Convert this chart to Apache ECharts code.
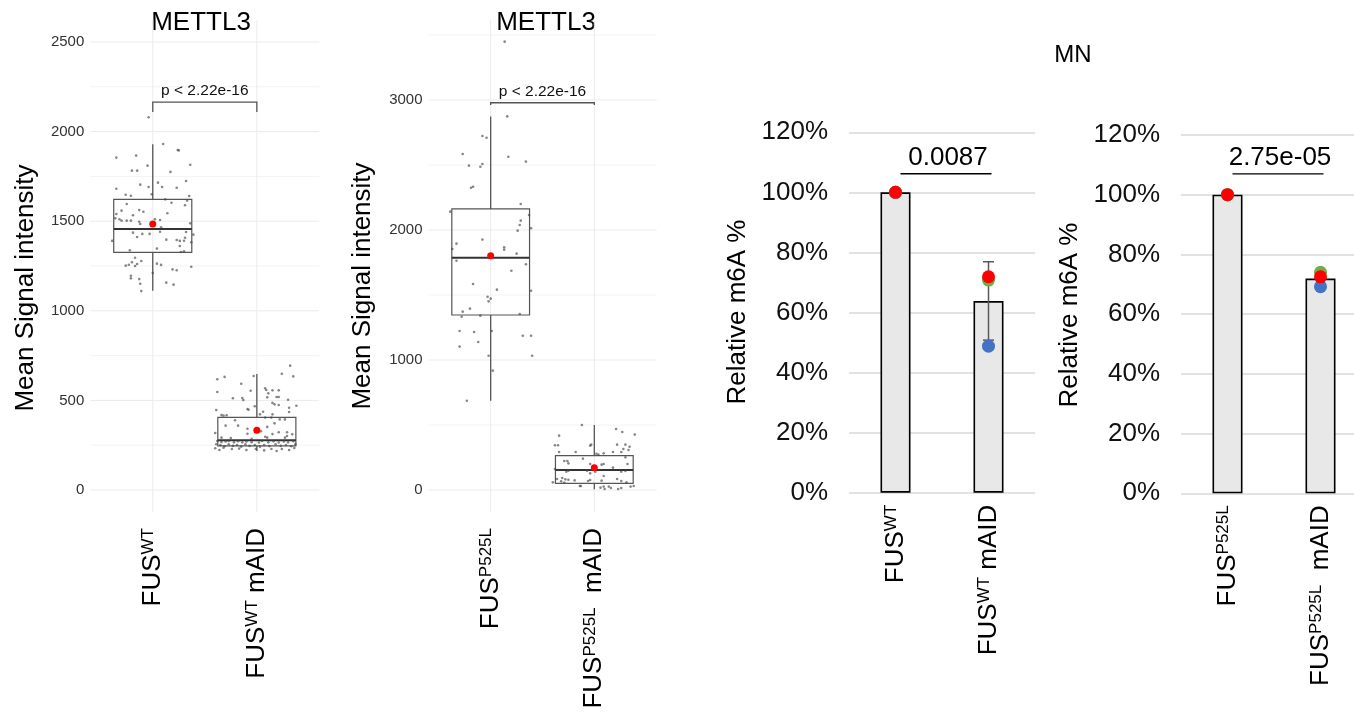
<!DOCTYPE html>
<html>
<head>
<meta charset="utf-8">
<script src="https://cdn.jsdelivr.net/npm/echarts@6/dist/echarts.min.js"></script>
<style>
  html, body { margin: 0; padding: 0; background: #ffffff; }
  #chart { width: 1354px; height: 717px; }
</style>
</head>
<body>
<div id="chart"></div>
<script>
// ---------- METTL3 signal, FUS WT vs FUS WT mAID ----------
// five-number summaries: [lower whisker, Q1, median, Q3, upper whisker]
const wtBox = [1112, 1326, 1456, 1622, 1929];
const wtAidBox = [218, 246, 277, 405, 647];
const wtMeans = [1484, 333];
const wtPValue = 'p < 2.22e-16';
const wtBracket = [2165, 2109];       // bracket top, tick end
const wtTicks = [0, 500, 1000, 1500, 2000, 2500];
const wtMinor = [250, 750, 1250, 1750, 2250];
// individual measurements: [horizontal jitter, signal]
const wtPoints = [[-0.04,2080],[0.10,1931],[0.24,1897],[0.25,1895],[-0.35,1855],[-0.16,1866],[0.36,1815],[-0.05,1810],[-0.20,1782],[-0.15,1782],[0.17,1775],[0.32,1724],[0.05,1715],[-0.12,1704],[0.09,1691],[-0.04,1691],[0.23,1687],[-0.35,1681],[-0.26,1648],[-0.21,1642],[-0.01,1650],[0.35,1641],[0.33,1615],[0.12,1622],[0.18,1603],[-0.25,1596],[0.31,1589],[-0.30,1559],[-0.13,1562],[-0.09,1553],[0.14,1544],[-0.35,1540],[-0.36,1516],[-0.19,1533],[-0.32,1511],[-0.30,1503],[-0.25,1503],[-0.21,1503],[-0.13,1497],[0.02,1511],[0.07,1507],[-0.12,1484],[0.36,1488],[0.08,1466],[0.07,1441],[-0.19,1436],[-0.10,1429],[-0.03,1429],[0.32,1440],[0.39,1425],[-0.15,1412],[0.31,1408],[0.13,1397],[0.23,1395],[0.30,1391],[0.26,1390],[-0.39,1390],[0.37,1382],[0.26,1362],[0.04,1347],[0.27,1328],[0.30,1332],[-0.22,1338],[-0.17,1296],[-0.11,1278],[-0.20,1271],[-0.23,1257],[-0.26,1252],[-0.15,1261],[-0.17,1250],[0.04,1263],[0.08,1256],[0.37,1246],[0.19,1231],[0.23,1226],[0.00,1211],[-0.21,1196],[-0.21,1181],[-0.13,1177],[0.13,1157],[0.20,1146],[-0.12,1151],[-0.11,1110]];
const wtAidPoints = [[0.32,694],[0.24,649],[0.35,634],[-0.03,636],[-0.31,631],[-0.38,618],[-0.15,593],[0.08,568],[0.09,558],[0.15,556],[0.21,556],[-0.38,547],[-0.06,554],[0.11,540],[-0.23,512],[-0.14,513],[-0.13,502],[0.10,517],[0.19,519],[0.21,519],[0.30,504],[0.15,486],[0.17,478],[0.21,474],[0.31,459],[0.38,470],[-0.02,467],[-0.09,452],[-0.08,448],[-0.39,446],[0.06,437],[0.31,435],[-0.34,418],[-0.32,415],[-0.29,417],[0.03,422],[0.15,422],[0.08,404],[0.14,404],[0.22,394],[0.27,394],[-0.21,389],[0.17,372],[-0.18,359],[-0.30,359],[0.10,352],[-0.09,342],[0.04,328],[-0.09,314],[0.29,322],[0.34,311],[-0.40,318],[0.15,312],[0.21,322],[-0.34,292],[-0.25,290],[0.08,297],[0.10,292],[0.27,292],[0.29,301],[-0.05,285],[-0.38,273],[-0.34,268],[-0.30,271],[-0.27,274],[-0.22,266],[-0.18,272],[-0.14,266],[-0.10,270],[-0.05,267],[0.02,265],[0.05,273],[0.11,266],[0.16,272],[0.21,265],[0.26,271],[0.30,266],[0.35,272],[-0.39,255],[-0.35,251],[-0.31,244],[-0.27,255],[-0.23,246],[-0.19,251],[-0.15,242],[-0.11,255],[-0.07,246],[-0.02,251],[0.03,242],[0.07,251],[0.12,245],[0.18,255],[0.23,246],[0.28,251],[0.33,244],[0.37,255],[-0.40,233],[-0.36,223],[-0.32,236],[-0.24,229],[-0.17,231],[-0.10,223],[-0.01,229],[0.07,221],[0.14,229],[0.19,218],[0.24,229],[0.31,223],[0.36,234]];

// ---------- METTL3 signal, FUS P525L vs FUS P525L mAID ----------
const p525Box = [687, 1346, 1787, 2162, 2874];
const p525AidBox = [5, 51, 154, 264, 500];
const p525Means = [1802, 172];
const p525PValue = 'p < 2.22e-16';
const p525Bracket = [2979, 2962];
const p525Ticks = [0, 1000, 2000, 3000];
const p525Minor = [500, 1500, 2500, 3500];
const p525Points = [[0.135,3449],[0.16,2874],[-0.08,2723],[-0.04,2710],[-0.27,2585],[0.17,2564],[0.34,2526],[-0.21,2495],[-0.10,2487],[-0.08,2508],[-0.19,2325],[-0.17,2333],[0.29,2200],[0.37,2115],[0.29,2072],[0.28,2038],[0.26,1995],[0.39,2013],[-0.39,2141],[-0.08,1926],[-0.33,1895],[-0.37,1854],[0.13,1867],[0.13,1849],[0.25,1818],[-0.33,1764],[0.34,1736],[0.20,1687],[-0.17,1585],[0.06,1541],[-0.03,1487],[0.00,1472],[-0.02,1451],[0.39,1533],[-0.20,1395],[-0.27,1372],[-0.28,1333],[-0.10,1341],[0.28,1354],[-0.30,1223],[-0.16,1215],[0.01,1223],[-0.12,1138],[0.31,1187],[0.39,1187],[-0.30,1103],[-0.02,1033],[0.40,1033],[0.02,918],[-0.23,687]];
const p525AidPoints = [[-0.12,500],[0.21,469],[0.27,446],[0.39,426],[-0.34,418],[-0.03,349],[-0.04,341],[-0.38,344],[-0.35,344],[0.22,349],[0.30,349],[0.34,333],[0.28,315],[0.33,308],[-0.34,292],[-0.18,292],[0.02,279],[0.04,272],[0.09,282],[0.18,292],[0.26,292],[-0.11,241],[0.30,251],[-0.29,223],[-0.26,223],[-0.25,205],[-0.04,200],[0.07,195],[0.09,200],[0.32,200],[0.18,172],[-0.38,162],[-0.35,154],[-0.25,149],[-0.27,141],[-0.07,149],[0.01,141],[0.26,141],[0.30,146],[0.09,108],[-0.04,128],[-0.36,85],[-0.31,92],[-0.28,82],[-0.25,79],[-0.19,74],[-0.06,69],[-0.04,77],[0.07,72],[0.22,85],[0.26,69],[0.31,59],[-0.40,59],[-0.14,31],[-0.13,31],[0.06,18],[0.09,26],[0.10,8],[0.14,26],[0.16,15],[0.23,8],[0.26,15],[0.35,26],[0.38,31],[-0.32,67],[-0.29,56]];

// category labels: [name, superscript, suffix]
const wtLabels = [['FUS', 'WT', ''], ['FUS', 'WT', ' mAID']];
const p525Labels = [['FUS', 'P525L', ''], ['FUS', 'P525L', '  mAID']];

// ---------- MN relative m6A ----------
const mnWtBars = [100, 63.8];
const mnWtRed = [100, 71.9];
const mnWtGreen = [100, 70.8];
const mnWtBlue = [100, 48.8];
const mnWtErr = [[1, 50.8, 76.9]];
const mnWtP = '0.0087';
const mnWtSig = 106.2;

const mnP525Bars = [100, 71.9];
const mnP525Red = [100, 72.5];
const mnP525Green = [100, 74.0];
const mnP525Blue = [100, 69.2];
const mnP525P = '2.75e-05';
const mnP525Sig = 107.0;

const FONT = '"Liberation Sans", Arial, Helvetica, sans-serif';

function richLabel(parts) {
  let s = '{b|' + parts[0] + '}{s|' + parts[1] + '}';
  if (parts[2]) s += '{b|' + parts[2].replace(/ /g, '\u00a0') + '}';
  return s;
}

const labelRich = {
  b: { fontSize: 26, fontFamily: FONT, color: '#000' },
  s: { fontSize: 17, fontFamily: FONT, color: '#000', verticalAlign: 'top' }
};

function boxXAxis(gridIndex, labels) {
  return {
    type: 'value', gridIndex: gridIndex, min: 0.4, max: 2.6,
    axisLine: { show: false }, axisTick: { show: false }, splitLine: { show: false },
    axisLabel: {
      customValues: [1, 2], rotate: 90, margin: 16,
      formatter: function (v) { return richLabel(labels[Math.round(v) - 1]); },
      rich: labelRich
    }
  };
}

function boxYAxis(gridIndex, min, max, ticks) {
  return {
    type: 'value', gridIndex: gridIndex, min: min, max: max,
    axisLine: { show: false }, axisTick: { show: false }, splitLine: { show: false },
    axisLabel: {
      customValues: ticks, fontSize: 15, color: '#333', margin: 6, fontFamily: FONT,
      formatter: function (v) { return String(Math.round(v)); }
    }
  };
}

// bar panels: one unit per category, bars centred on 0 and 1
function barXAxis(gridIndex, labels, max) {
  return {
    type: 'value', gridIndex: gridIndex, min: -0.5, max: max,
    axisLine: { show: false }, axisTick: { show: false }, splitLine: { show: false },
    axisLabel: {
      customValues: [0, 1], rotate: 90, margin: 12,
      formatter: function (v) { return richLabel(labels[Math.round(v)]); },
      rich: labelRich
    }
  };
}

function barYAxis(gridIndex) {
  return {
    type: 'value', gridIndex: gridIndex, min: 0, max: 120, interval: 20,
    axisLine: { show: false }, axisTick: { show: false },
    splitLine: { lineStyle: { color: '#d9d9d9', width: 1.5 } },
    axisLabel: { formatter: '{value}%', fontSize: 26, color: '#111', margin: 21, fontFamily: FONT }
  };
}

// background grid lines of the box panels: [orientation (0 = horizontal), value, minor flag]
function gridLineSeries(idx, majors, minors) {
  const data = [];
  majors.forEach(function (v) { data.push([0, v, 0]); });
  minors.forEach(function (v) { data.push([0, v, 1]); });
  [1, 2].forEach(function (v) { data.push([1, v, 0]); });
  return {
    type: 'custom', xAxisIndex: idx, yAxisIndex: idx, z: 1, silent: true,
    encode: { x: -1, y: -1 },
    data: data,
    renderItem: function (params, api) {
      const cs = params.coordSys;
      const dir = api.value(0), v = api.value(1), minor = api.value(2);
      const stroke = minor ? '#f3f3f3' : '#ebebeb';
      if (dir === 0) {
        const y = api.coord([1, v])[1];
        return { type: 'line', shape: { x1: cs.x, y1: y, x2: cs.x + cs.width, y2: y }, style: { stroke: stroke, lineWidth: 1 } };
      }
      const x = api.coord([v, 0])[0];
      return { type: 'line', shape: { x1: x, y1: cs.y, x2: x, y2: cs.y + cs.height }, style: { stroke: stroke, lineWidth: 1 } };
    }
  };
}

function boxSeries(idx, boxes) {
  return {
    type: 'custom', xAxisIndex: idx, yAxisIndex: idx, z: 2, silent: true,
    encode: { x: 0, y: [1, 2, 3, 4, 5] },
    data: boxes.map(function (b, i) { return [i + 1].concat(b); }),
    renderItem: function (params, api) {
      const x = api.value(0);
      const lo = api.coord([x, api.value(1)]);
      const q1 = api.coord([x, api.value(2)]);
      const med = api.coord([x, api.value(3)]);
      const q3 = api.coord([x, api.value(4)]);
      const hi = api.coord([x, api.value(5)]);
      const l = api.coord([x - 0.375, 0])[0];
      const r = api.coord([x + 0.375, 0])[0];
      return {
        type: 'group',
        children: [
          { type: 'line', shape: { x1: q3[0], y1: q3[1], x2: hi[0], y2: hi[1] }, style: { stroke: '#555', lineWidth: 1.3 } },
          { type: 'line', shape: { x1: q1[0], y1: q1[1], x2: lo[0], y2: lo[1] }, style: { stroke: '#555', lineWidth: 1.3 } },
          { type: 'rect', shape: { x: l, y: q3[1], width: r - l, height: q1[1] - q3[1] }, style: { fill: 'rgba(255,255,255,0)', stroke: '#555', lineWidth: 1.2 } },
          { type: 'line', shape: { x1: l, y1: med[1], x2: r, y2: med[1] }, style: { stroke: '#333', lineWidth: 2 } }
        ]
      };
    }
  };
}

function pointSeries(idx, groups) {
  const data = [];
  groups.forEach(function (pts, g) {
    pts.forEach(function (p) { data.push([g + 1 + p[0], p[1]]); });
  });
  return {
    type: 'scatter', xAxisIndex: idx, yAxisIndex: idx, z: 3, silent: true,
    symbolSize: 2.6, itemStyle: { color: 'rgba(70,70,70,0.65)', opacity: 1 }, data: data
  };
}

function meanSeries(idx, means) {
  return {
    type: 'scatter', xAxisIndex: idx, yAxisIndex: idx, z: 4, silent: true,
    symbolSize: 7, itemStyle: { color: '#ff0000', opacity: 1 },
    data: means.map(function (m, i) { return [i + 1, m]; })
  };
}

function bracketSeries(idx, bracket, text) {
  return {
    type: 'custom', xAxisIndex: idx, yAxisIndex: idx, z: 4, silent: true,
    encode: { x: [0, 1], y: [2, 3] },
    data: [[1, 2, bracket[0], bracket[1]]],
    renderItem: function (params, api) {
      const a = api.coord([api.value(0), api.value(2)]);
      const b = api.coord([api.value(1), api.value(2)]);
      const t = api.coord([api.value(0), api.value(3)])[1];
      return {
        type: 'group',
        children: [
          { type: 'polyline', shape: { points: [[a[0], t], a, b, [b[0], t]] }, style: { stroke: '#555', lineWidth: 1.3, fill: null } },
          { type: 'text', x: (a[0] + b[0]) / 2, y: a[1] - 3,
            style: { text: text, fontSize: 15.5, fontFamily: FONT, fill: '#111', align: 'center', verticalAlign: 'bottom' } }
        ]
      };
    }
  };
}

function barSeries(idx, values) {
  return {
    type: 'bar', xAxisIndex: idx, yAxisIndex: idx, z: 2, silent: true, barWidth: 30,
    itemStyle: { color: '#e8e8e8', borderColor: '#000', borderWidth: 1.6 },
    data: values.map(function (v, i) { return [i, v]; })
  };
}

function dotSeries(idx, values, color, z) {
  return {
    type: 'scatter', xAxisIndex: idx, yAxisIndex: idx, z: z, silent: true,
    symbolSize: 13, itemStyle: { color: color, opacity: 1 },
    data: values.map(function (v, i) { return [i, v]; })
  };
}

function errSeries(idx, errs) {
  return {
    type: 'custom', xAxisIndex: idx, yAxisIndex: idx, z: 3, silent: true,
    encode: { x: 0, y: [1, 2] },
    data: errs,
    renderItem: function (params, api) {
      const lo = api.coord([api.value(0), api.value(1)]);
      const hi = api.coord([api.value(0), api.value(2)]);
      const st = { stroke: '#595959', lineWidth: 1.5 };
      return {
        type: 'group',
        children: [
          { type: 'line', shape: { x1: lo[0], y1: lo[1], x2: hi[0], y2: hi[1] }, style: st },
          { type: 'line', shape: { x1: lo[0] - 5.5, y1: lo[1], x2: lo[0] + 5.5, y2: lo[1] }, style: st },
          { type: 'line', shape: { x1: hi[0] - 5.5, y1: hi[1], x2: hi[0] + 5.5, y2: hi[1] }, style: st }
        ]
      };
    }
  };
}

function sigSeries(idx, level, text) {
  return {
    type: 'custom', xAxisIndex: idx, yAxisIndex: idx, z: 5, silent: true,
    encode: { x: [0, 1], y: 2 },
    data: [[0, 1, level]],
    renderItem: function (params, api) {
      const a = api.coord([api.value(0), api.value(2)]);
      const b = api.coord([api.value(1), api.value(2)]);
      return {
        type: 'group',
        children: [
          { type: 'line', shape: { x1: a[0] + 5, y1: a[1], x2: b[0] + 3, y2: b[1] }, style: { stroke: '#000', lineWidth: 1.3 } },
          { type: 'text', x: (a[0] + b[0]) / 2 + 6, y: a[1] - 3,
            style: { text: text, fontSize: 26, fontFamily: FONT, fill: '#000', align: 'center', verticalAlign: 'bottom' } }
        ]
      };
    }
  };
}

const chart = echarts.init(document.getElementById('chart'), null, { renderer: 'canvas' });

chart.setOption({
  animation: false,
  backgroundColor: '#ffffff',
  textStyle: { fontFamily: FONT },
  grid: [
    { left: 90.3, top: 20, width: 229, height: 492 },
    { left: 428.5, top: 20, width: 228, height: 492 },
    { left: 849, top: 132.3, width: 186, height: 360.4 },
    { left: 1181, top: 135, width: 173, height: 358.3 }
  ],
  xAxis: [
    boxXAxis(0, wtLabels),
    boxXAxis(1, p525Labels),
    barXAxis(2, wtLabels, 1.5),
    barXAxis(3, p525Labels, -0.5 + 173 / 93)
  ],
  yAxis: [
    boxYAxis(0, -122.8, 2622.8, wtTicks),
    boxYAxis(1, -169.2, 3615.4, p525Ticks),
    barYAxis(2),
    barYAxis(3)
  ],
  series: [
    gridLineSeries(0, wtTicks, wtMinor),
    boxSeries(0, [wtBox, wtAidBox]),
    pointSeries(0, [wtPoints, wtAidPoints]),
    meanSeries(0, wtMeans),
    bracketSeries(0, wtBracket, wtPValue),

    gridLineSeries(1, p525Ticks, p525Minor),
    boxSeries(1, [p525Box, p525AidBox]),
    pointSeries(1, [p525Points, p525AidPoints]),
    meanSeries(1, p525Means),
    bracketSeries(1, p525Bracket, p525PValue),

    barSeries(2, mnWtBars),
    errSeries(2, mnWtErr),
    dotSeries(2, mnWtBlue, '#4472c4', 4),
    dotSeries(2, mnWtGreen, '#70ad47', 5),
    dotSeries(2, mnWtRed, '#ff0000', 6),
    sigSeries(2, mnWtSig, mnWtP),

    barSeries(3, mnP525Bars),
    dotSeries(3, mnP525Blue, '#4472c4', 4),
    dotSeries(3, mnP525Green, '#70ad47', 5),
    dotSeries(3, mnP525Red, '#ff0000', 6),
    sigSeries(3, mnP525Sig, mnP525P)
  ],
  graphic: [
    { type: 'text', x: 201, y: 23, style: { text: 'METTL3', fontSize: 26, fontFamily: FONT, fill: '#000', align: 'center', verticalAlign: 'middle' } },
    { type: 'text', x: 546, y: 23, style: { text: 'METTL3', fontSize: 26, fontFamily: FONT, fill: '#000', align: 'center', verticalAlign: 'middle' } },
    { type: 'text', x: 26, y: 288, rotation: Math.PI / 2, style: { text: 'Mean Signal intensity', fontSize: 26, fontFamily: FONT, fill: '#000', align: 'center', verticalAlign: 'middle' } },
    { type: 'text', x: 363, y: 286, rotation: Math.PI / 2, style: { text: 'Mean Signal intensity', fontSize: 26, fontFamily: FONT, fill: '#000', align: 'center', verticalAlign: 'middle' } },
    { type: 'text', x: 1073, y: 55, style: { text: 'MN', fontSize: 24, fontFamily: FONT, fill: '#000', align: 'center', verticalAlign: 'middle' } },
    { type: 'text', x: 738, y: 312, rotation: Math.PI / 2, style: { text: 'Relative m6A %', fontSize: 26, fontFamily: FONT, fill: '#000', align: 'center', verticalAlign: 'middle' } },
    { type: 'text', x: 1070, y: 315, rotation: Math.PI / 2, style: { text: 'Relative m6A %', fontSize: 26, fontFamily: FONT, fill: '#000', align: 'center', verticalAlign: 'middle' } }
  ]
});
</script>
</body>
</html>
